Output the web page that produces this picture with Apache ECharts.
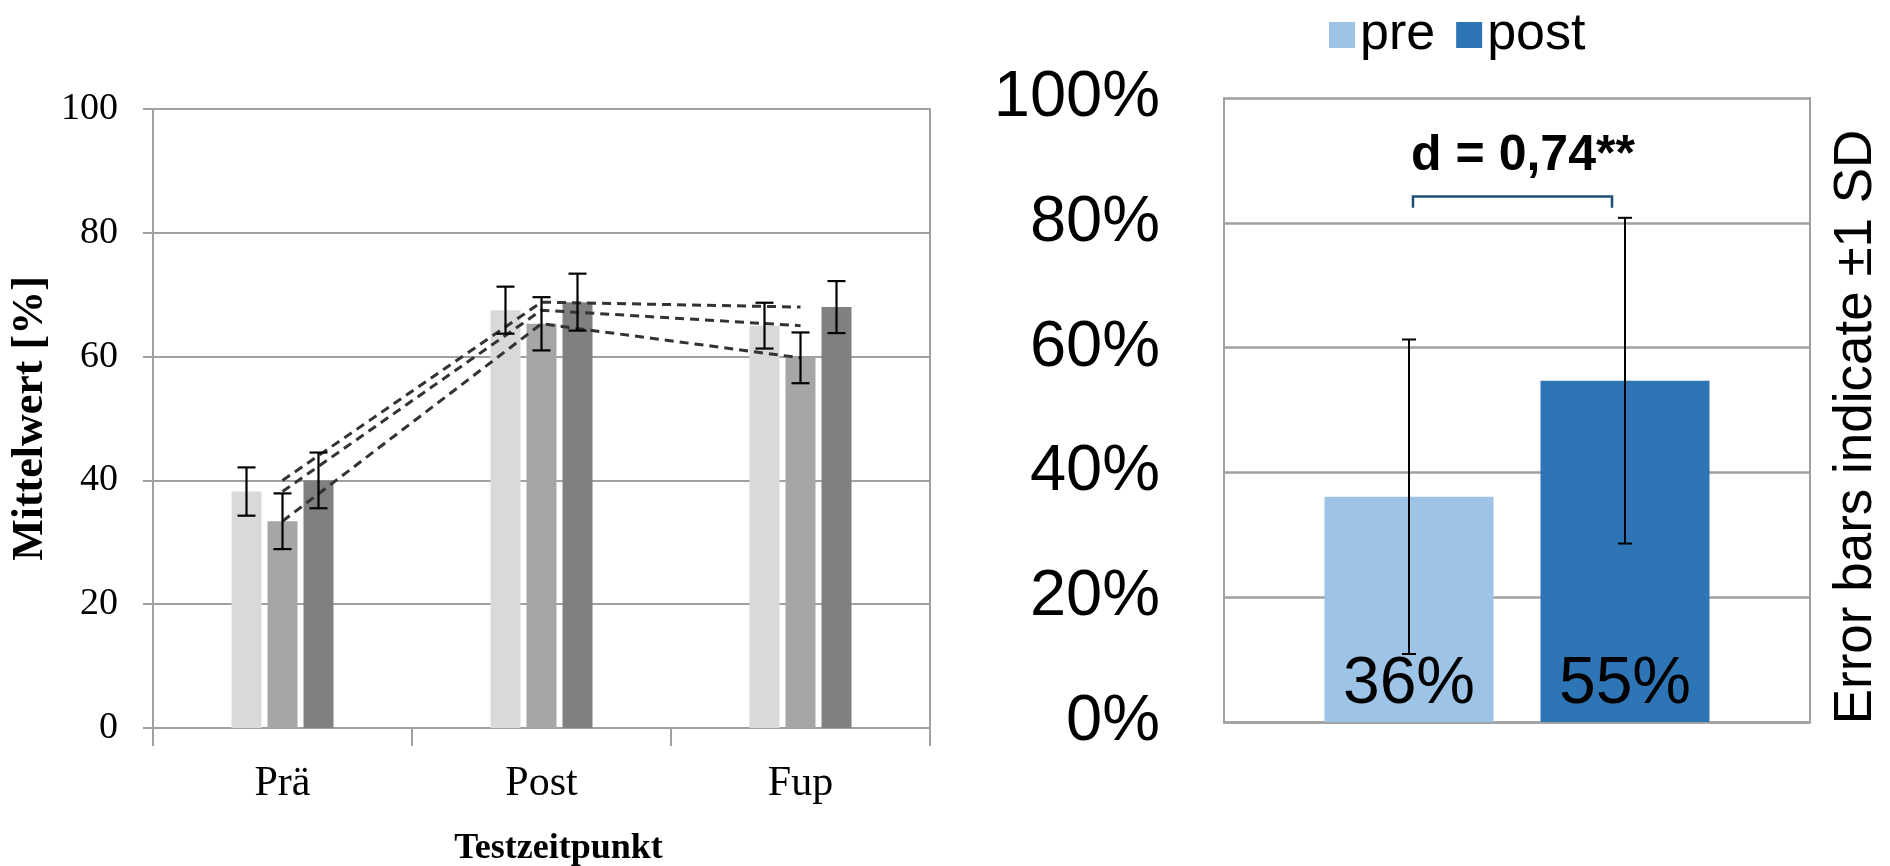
<!DOCTYPE html>
<html>
<head>
<meta charset="utf-8">
<script src="https://cdn.jsdelivr.net/npm/echarts/dist/echarts.min.js"></script>
<style>
html,body{margin:0;padding:0;background:#fff;}
#chart{width:1890px;height:866px;}
</style>
</head>
<body>
<div id="chart"></div>
<script>
// ---------- data: left chart ----------
const leftCategories = ['Prä', 'Post', 'Fup'];
const leftLight   = [38.2, 67.5, 65.0];
const leftMid     = [33.4, 65.3, 59.8];
const leftDark    = [40.0, 68.8, 68.0];
const leftLightSD = [3.9, 3.8, 3.7];
const leftMidSD   = [4.5, 4.3, 4.1];
const leftDarkSD  = [4.5, 4.6, 4.2];
const leftYTitle = 'Mittelwert [%]';
const leftXTitle = 'Testzeitpunkt';

// ---------- data: right chart ----------
const rightCategories = [''];
const rightNames = ['pre', 'post'];
const preValues  = [36.1];
const postValues = [54.7];
const preSD  = [25.2];
const postSD = [26.1];
const effectLabel = 'd = 0,74**';
const bracketLevels = [84.2, 82.4, 90.7]; // bracket line, bracket ends, label
const rightAxisNote = 'Error bars indicate \u00b11 SD';

// ---------- styles ----------
const serif = 'Liberation Serif, Times New Roman, serif';
const sans = 'Liberation Sans, Arial, sans-serif';
const gridGray = '#a0a0a0';
const leftBarW = 30, leftGapPx = 6;
const rightBarW = 169, rightGapPx = 47;

function errSeries(name, means, sds, offset, capW, gridIdx, lw) {
  return {
    type: 'custom', name: name, xAxisIndex: gridIdx, yAxisIndex: gridIdx * 2, z: 5,
    silent: true,
    data: means.map((m, i) => [i, m, sds[i]]),
    encode: {x: 0, y: 1},
    renderItem: function (params, api) {
      const i = api.value(0), m = api.value(1), sd = api.value(2);
      const top = api.coord([i, m + sd]);
      const bot = api.coord([i, m - sd]);
      const cx = top[0] + offset;
      const st = {stroke: '#000', lineWidth: lw};
      return {type: 'group', children: [
        {type: 'line', shape: {x1: cx, y1: top[1], x2: cx, y2: bot[1]}, style: st},
        {type: 'line', shape: {x1: cx - capW / 2, y1: top[1], x2: cx + capW / 2, y2: top[1]}, style: st},
        {type: 'line', shape: {x1: cx - capW / 2, y1: bot[1], x2: cx + capW / 2, y2: bot[1]}, style: st}
      ]};
    }
  };
}

function dashed(name, vals) {
  return {
    type: 'line', name: name, xAxisIndex: 0, yAxisIndex: 0, data: vals, z: 4,
    symbol: 'none', silent: true,
    lineStyle: {color: '#333333', width: 3, type: [9, 6]}
  };
}

const leftStep = leftBarW + leftGapPx;
const rightStep = (rightBarW + rightGapPx) / 2;

const option = {
  animation: false,
  backgroundColor: '#fff',
  legend: {
    data: rightNames,
    left: 1329, top: 5,
    itemWidth: 26, itemHeight: 26, itemGap: 21,
    icon: 'rect',
    padding: 0,
    textStyle: {fontFamily: sans, fontSize: 52, color: '#000', lineHeight: 52, padding: [0, 0, 8, 0]}
  },
  grid: [
    {left: 153, top: 109, width: 777, height: 619, outerBoundsMode: 'none', containLabel: false},
    {left: 1224, top: 98, width: 586, height: 624, outerBoundsMode: 'none', containLabel: false}
  ],
  xAxis: [
    {
      type: 'category', gridIndex: 0, data: leftCategories,
      axisLine: {lineStyle: {color: gridGray, width: 2}},
      axisTick: {show: true, length: 18, lineStyle: {color: gridGray, width: 2}},
      axisLabel: {fontFamily: serif, fontSize: 42, color: '#000', margin: 35},
      name: leftXTitle, nameLocation: 'middle', nameGap: 103,
      nameTextStyle: {fontFamily: serif, fontSize: 36, fontWeight: 'bold', color: '#000', padding: [0, 0, 0, 34]}
    },
    {
      type: 'category', gridIndex: 1, data: rightCategories,
      axisLine: {lineStyle: {color: gridGray, width: 2.5}},
      axisTick: {show: false}, axisLabel: {show: false}
    }
  ],
  yAxis: [
    {
      type: 'value', gridIndex: 0, min: 0, max: 100, interval: 20,
      axisLine: {show: true, lineStyle: {color: gridGray, width: 2}},
      axisTick: {show: true, length: 10, lineStyle: {color: gridGray, width: 2}},
      splitLine: {lineStyle: {color: gridGray, width: 2}},
      axisLabel: {fontFamily: serif, fontSize: 38, color: '#000', margin: 35},
      name: leftYTitle, nameLocation: 'middle', nameGap: 100, nameRotate: 90,
      nameTextStyle: {fontFamily: serif, fontSize: 44, fontWeight: 'bold', color: '#000'}
    },
    {
      type: 'value', gridIndex: 0, min: 0, max: 100, interval: 20, position: 'right',
      axisLine: {show: true, lineStyle: {color: gridGray, width: 2}},
      axisTick: {show: false}, axisLabel: {show: false}, splitLine: {show: false}
    },
    {
      type: 'value', gridIndex: 1, min: 0, max: 100, interval: 20,
      axisLine: {show: true, lineStyle: {color: gridGray, width: 2}},
      axisTick: {show: false},
      splitLine: {lineStyle: {color: gridGray, width: 2.5}},
      axisLabel: {fontFamily: sans, fontSize: 65, color: '#000', margin: 64, formatter: '{value}%'}
    },
    {
      type: 'value', gridIndex: 1, min: 0, max: 100, interval: 20, position: 'right',
      axisLine: {show: true, lineStyle: {color: gridGray, width: 2}},
      axisTick: {show: false}, axisLabel: {show: false}, splitLine: {show: false},
      name: rightAxisNote, nameLocation: 'middle', nameGap: 20, nameRotate: 90,
      nameTextStyle: {fontFamily: sans, fontSize: 53, color: '#000', padding: [0, 34, 0, 0]}
    }
  ],
  series: [
    {type: 'bar', name: 'g1', xAxisIndex: 0, yAxisIndex: 0, data: leftLight, barWidth: leftBarW,
      barGap: (leftGapPx / leftBarW * 100) + '%', itemStyle: {color: '#d9d9d9'}, z: 2},
    {type: 'bar', name: 'g2', xAxisIndex: 0, yAxisIndex: 0, data: leftMid, barWidth: leftBarW,
      barGap: (leftGapPx / leftBarW * 100) + '%', itemStyle: {color: '#a6a6a6'}, z: 2},
    {type: 'bar', name: 'g3', xAxisIndex: 0, yAxisIndex: 0, data: leftDark, barWidth: leftBarW,
      barGap: (leftGapPx / leftBarW * 100) + '%', itemStyle: {color: '#808080'}, z: 2},
    dashed('l1', leftLight), dashed('l2', leftMid), dashed('l3', leftDark),
    errSeries('e1', leftLight, leftLightSD, -leftStep, 18, 0, 2.2),
    errSeries('e2', leftMid, leftMidSD, 0, 18, 0, 2.2),
    errSeries('e3', leftDark, leftDarkSD, leftStep, 18, 0, 2.2),

    {type: 'bar', name: 'pre', xAxisIndex: 1, yAxisIndex: 2, data: preValues, barWidth: rightBarW,
      barGap: (rightGapPx / rightBarW * 100) + '%', itemStyle: {color: '#9dc3e6'}, z: 2,
      label: {show: true, position: 'insideBottom', distance: 4, fontFamily: sans, fontSize: 66,
        lineHeight: 66, color: '#000', formatter: p => Math.round(p.value) + '%'}},
    {type: 'bar', name: 'post', xAxisIndex: 1, yAxisIndex: 2, data: postValues, barWidth: rightBarW,
      barGap: (rightGapPx / rightBarW * 100) + '%', itemStyle: {color: '#2e75b6'}, z: 2,
      label: {show: true, position: 'insideBottom', distance: 4, fontFamily: sans, fontSize: 66,
        lineHeight: 66, color: '#000', formatter: p => Math.round(p.value) + '%'}},
    errSeries('epre', preValues, preSD, -rightStep, 14, 1, 2),
    errSeries('epost', postValues, postSD, rightStep, 14, 1, 2),
    {
      type: 'custom', name: 'bracket', xAxisIndex: 1, yAxisIndex: 2, z: 6, silent: true,
      data: [[0].concat(bracketLevels)],
      encode: {x: 0, y: 1},
      renderItem: function (params, api) {
        const i = api.value(0);
        const yLine = api.coord([i, api.value(1)])[1];
        const yEnd = api.coord([i, api.value(2)])[1];
        const yText = api.coord([i, api.value(3)])[1];
        const c = api.coord([i, 0])[0];
        const x1 = c - rightStep + 4, x2 = c + rightStep - 13;
        return {type: 'group', children: [
          {type: 'polyline', shape: {points: [[x1, yEnd], [x1, yLine], [x2, yLine], [x2, yEnd]]},
            style: {stroke: '#1f4e79', lineWidth: 2.5, fill: null}},
          {type: 'text', x: c + 6, y: yText,
            style: {text: effectLabel, fontFamily: sans, fontSize: 50, fontWeight: 'bold',
              fill: '#000', align: 'center', verticalAlign: 'middle'}}
        ]};
      }
    }
  ]
};

const chart = echarts.init(document.getElementById('chart'), null, {renderer: 'canvas'});
chart.setOption(option);
</script>
</body>
</html>
